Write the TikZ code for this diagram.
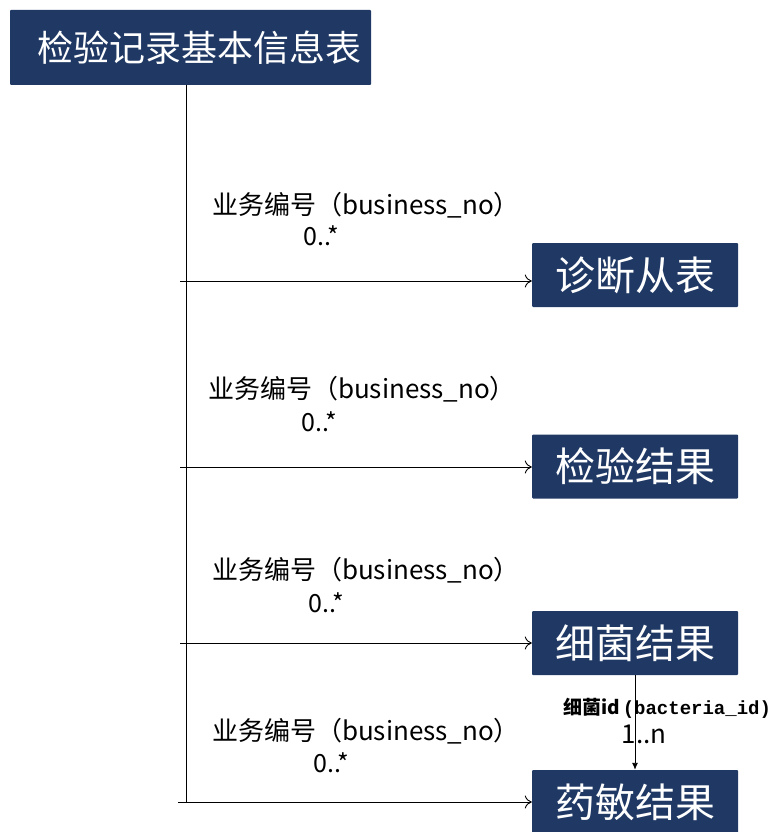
\documentclass[tikz,border=0pt]{standalone}
\usepackage{fontspec}
\newfontfamily\cjk{Noto Sans CJK SC}
\setmonofont{Liberation Mono}
\usetikzlibrary{arrows.meta,positioning}
\definecolor{navy}{HTML}{1F3864}

\begin{document}
\begin{tikzpicture}[x=1pt, y=-1pt,
    tbl/.style={fill=navy, text=white, rounded corners=1pt, inner sep=0pt,
                minimum width=206, minimum height=64, font=\cjk\fontsize{40}{42}\selectfont},
    lnk/.style={-{To[length=7pt,width=13pt]}, line width=0.9pt},
    lbl/.style={font=\cjk\fontsize{26}{28}\selectfont},
    card/.style={font=\cjk\fontsize{25}{27}\selectfont}]
\useasboundingbox (0,0) rectangle (777,832);
% tables
\node [tbl, minimum width=361, minimum height=75, font=\cjk\fontsize{36}{38}\selectfont] (rec) at (190.5,47.5) {\hspace{18pt}检验记录基本信息表};
\node [tbl] (diag) at (635,275) {诊断从表};
\node [tbl] (test) at (635,466.5) {检验结果};
\node [tbl] (bact) at (635,643) {细菌结果};
\node [tbl] (drug) at (635,802) {药敏结果};
% trunk and branches
\coordinate (top) at (186,85);
\coordinate (bot) at (186,802);
\draw [line width=0.9pt] (top) -- (bot);
\coordinate (b1) at (180,281);
\coordinate (b2) at (180,467);
\coordinate (b3) at (180,643);
\coordinate (b4) at (178,802);
\draw [lnk] (b1) -- (diag.west |- b1);
\draw [lnk] (b2) -- (test.west |- b2);
\draw [lnk] (b3) -- (bact.west |- b3);
\draw [lnk] (b4) -- (drug.west |- b4);
% labels
\node [lbl] (l1) at (366,205) {业务编号（business\_no）};
\node [card] (c1) at (321,236) {0..*};
\node [lbl] (l2) at (362,389) {业务编号（business\_no）};
\node [card] (c2) at (319,422) {0..*};
\node [lbl] (l3) at (366,570) {业务编号（business\_no）};
\node [card] (c3) at (326,603) {0..*};
\node [lbl] (l4) at (366,731) {业务编号（business\_no）};
\node [card] (c4) at (331,763) {0..*};
% bacteria -> drug
\draw [-{Latex[length=7pt,width=6pt]}, line width=0.9pt] (bact.south) -- (drug.north);
\node [font=\cjk\bfseries\fontsize{19}{21}\selectfont] (bid) at (667,708) {细菌id\,{\ttfamily\bfseries (bacteria\_id)}};
\node [font=\cjk\fontsize{26}{28}\selectfont] (bn) at (644,734) {1..n};
\end{tikzpicture}
\end{document}
